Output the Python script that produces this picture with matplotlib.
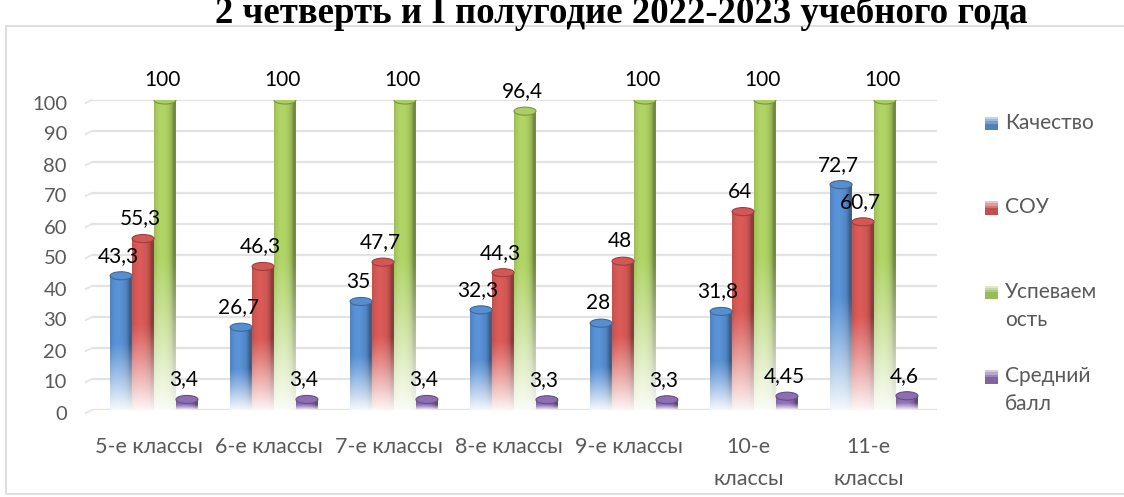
import numpy as np
import matplotlib.pyplot as plt
from matplotlib.patches import Ellipse, Rectangle, Patch
from matplotlib.legend_handler import HandlerBase
from matplotlib.colors import to_rgb

plt.rcParams['font.family'] = ['Lato', 'DejaVu Sans']

# Data
classes = ['5-е классы', '6-е классы', '7-е классы', '8-е классы',
           '9-е классы', '10-е\nклассы', '11-е\nклассы']
series_names = ['Качество', 'СОУ', 'Успеваем\nость', 'Средний\nбалл']
quality = [43.3, 26.7, 35, 32.3, 28, 31.8, 72.7]
sou = [55.3, 46.3, 47.7, 44.3, 48, 64, 60.7]
progress = [100, 100, 100, 96.4, 100, 100, 100]
avg_score = [3.4, 3.4, 3.4, 3.3, 3.3, 4.45, 4.6]
y_ticks = [0, 10, 20, 30, 40, 50, 60, 70, 80, 90, 100]
title = '2 четверть и I полугодие 2022-2023 учебного года'

series = [quality, sou, progress, avg_score]
colors = ['#4F81BD', '#C0504D', '#9BBB59', '#8064A2']
gray = '#595959'

W, H = 1124, 497
fig = plt.figure(figsize=(W / 100, H / 100), dpi=100)

# chart frame
fig.patches.append(Rectangle((6 / W, 3 / H), 1.2, (H - 29) / H, transform=fig.transFigure,
                             fill=False, edgecolor='#D9D9D9', lw=1.2))

# title is partly cut off at the top, as in the original screenshot
fig.text(0.553, 1 - 23 / H, title, ha='center', va='baseline', fontsize=26.5,
         fontweight='bold', family='Liberation Serif')

ax = fig.add_axes([92 / W, 87 / H, 845 / W, 310 / H])
ax.axis('off')


def fmt(v):
    return f'{v:g}'.replace('.', ',')


# grid lines with small slanted start (3D wall)
for v in y_ticks:
    ax.axhline(v, color='#E3E3E3', lw=1.6, zorder=0)
    ax.plot([-0.57, -0.517], [v - 1.0, v], color='#E3E3E3', lw=1.2, clip_on=False, zorder=0)
    ax.annotate(str(v), xy=(0, v), xycoords=('axes fraction', 'data'), xytext=(-25, -4),
                textcoords='offset pixels', ha='right', va='center', fontsize=14.5, color=gray)

bar_w = 0.183
cap_h = 2.6
u = np.linspace(-1, 1, 40)
shade = 0.74 + 0.4 * np.sqrt(np.clip(1 - (u + 0.25) ** 2, 0, 1))
t = np.linspace(0, 1, 120)[:, None]
fade = np.clip((t - 0.5) / 0.5, 0, 1) ** 1.1 * 0.94


def cylinder(xc, h, color):
    rgb = np.array(to_rgb(color))
    body = np.clip(rgb[None, None, :] * shade[None, :, None], 0, 1)
    img = body * (1 - fade[:, :, None]) + fade[:, :, None]
    ax.imshow(img, extent=(xc - bar_w / 2, xc + bar_w / 2, 0, h), aspect='auto',
              interpolation='bilinear', zorder=2)
    ax.add_patch(Ellipse((xc, h), bar_w, cap_h, facecolor=np.clip(rgb * 1.1, 0, 1),
                         edgecolor=rgb * 0.8, lw=0.8, zorder=3))


x = np.arange(len(classes))
for k, (vals, c) in enumerate(zip(series, colors)):
    xs = x + (k - 1.5) * bar_w
    for xc, v in zip(xs, vals):
        cylinder(xc, v, c)
        ax.annotate(fmt(v), xy=(xc, v), xytext=(-3, 20), textcoords='offset pixels',
                    ha='center', va='center', fontsize=15, color='black', zorder=5)

for xi, lab in zip(x, classes):
    ax.annotate(lab, xy=(xi - 0.045, 0), xytext=(0, -27), textcoords='offset pixels',
                ha='center', va='top', fontsize=15.5, color=gray, linespacing=1.72,
                annotation_clip=False)

ax.set_xlim(-0.517, 6.525)
ax.set_ylim(0, 100)


class GradHandler(HandlerBase):
    # square marker fading to white at the bottom, lifted to the first text line
    def __init__(self, lift=8, **kw):
        super().__init__(**kw)
        self.lift = lift

    def create_artists(self, legend, orig_handle, xdescent, ydescent, width, height,
                       fontsize, trans):
        rgb = np.array(to_rgb(orig_handle.get_facecolor()))
        n = 6
        side = height
        x0 = -xdescent
        y0 = -ydescent + self.lift
        arts = []
        for i in range(n):
            f = max(0, (n - 1 - i) / (n - 1) - 0.4) * 1.1
            col = rgb * (1 - f) + f
            r = Rectangle((x0, y0 + side * (n - 1 - i) / n), side, side / n,
                          facecolor=np.clip(col, 0, 1), edgecolor='none', transform=trans)
            arts.append(r)
        return arts


# every entry gets two lines so the rows are evenly spaced, as in Excel
legend_labels = [s if '\n' in s else s + '\n' for s in series_names]
handles = [Patch(facecolor=c) for c in colors]
leg = fig.legend(handles, legend_labels, loc='upper left', bbox_to_anchor=(966 / W, 1 - 94 / H),
                 frameon=False, fontsize=15, labelcolor=gray, handlelength=0.62,
                 handleheight=0.62, handletextpad=0.35, labelspacing=1.75,
                 handler_map={Patch: GradHandler(lift=10)})
for txt in leg.get_texts():
    txt.set_linespacing(1.5)

fig.savefig('out.png', dpi=100)
